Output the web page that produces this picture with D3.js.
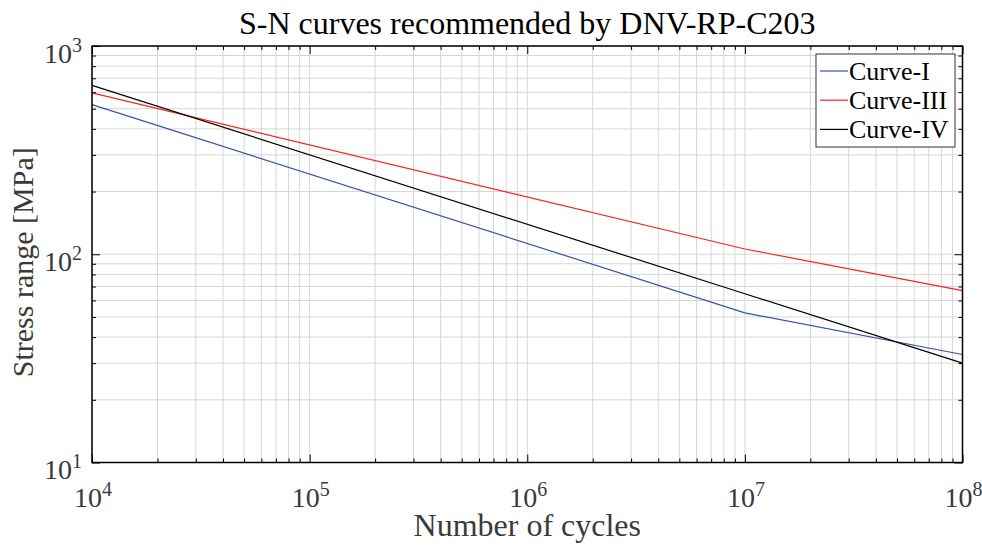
<!DOCTYPE html>
<html>
<head>
<meta charset="utf-8">
<script src="https://cdn.jsdelivr.net/npm/d3@7"></script>
<style>
  html, body { margin: 0; padding: 0; background: #fff; }
  svg { display: block; font-family: "Liberation Serif", "Times New Roman", serif; }
</style>
</head>
<body>
<svg id="chart" width="982" height="550"></svg>
<script>
// S-N curve data: number of cycles and stress range [MPa] at the curve end points / knees
const cycles = [1e4, 1e7, 1e8];
const curveI = [523, 52.3, 33.0];
const curveIII = [596, 106, 66.9];
const curveIV = [647, 64.6, 30.0];

const seriesNames = ["Curve-I", "Curve-III", "Curve-IV"];
const seriesColors = ["#3553a8", "#ff2020", "#000000"];

const xDecades = [4, 5, 6, 7, 8];
const yDecades = [1, 2, 3];

const titleText = "S-N curves recommended by DNV-RP-C203";
const xLabel = "Number of cycles";
const yLabel = "Stress range [MPa]";

(function () {
  const svg = d3.select("#chart");
  const L = 92, R = 962.5, T = 46, B = 462.5;

  const x = d3.scaleLog().domain([1e4, 1e8]).range([L, R]);
  const y = d3.scaleLog().domain([10, 1000]).range([B, T]);

  // major + minor tick values for each log axis
  function logTicks(decades) {
    const major = decades.map(d => Math.pow(10, d));
    const minor = [];
    for (let i = 0; i < decades.length - 1; i++) {
      for (let k = 2; k <= 9; k++) minor.push(k * Math.pow(10, decades[i]));
    }
    return { major, minor };
  }
  const xt = logTicks(xDecades);
  const yt = logTicks(yDecades);

  // grid
  const grid = svg.append("g").attr("stroke", "#d6d6d6").attr("stroke-width", 1);
  xt.major.concat(xt.minor).forEach(v => {
    grid.append("line").attr("x1", x(v)).attr("x2", x(v)).attr("y1", T).attr("y2", B);
  });
  yt.major.concat(yt.minor).forEach(v => {
    grid.append("line").attr("x1", L).attr("x2", R).attr("y1", y(v)).attr("y2", y(v));
  });

  // curves
  const series = [curveI, curveIII, curveIV];
  const line = d3.line().x(d => x(d[0])).y(d => y(d[1]));
  series.forEach((vals, i) => {
    svg.append("path")
      .datum(cycles.map((c, j) => [c, vals[j]]))
      .attr("d", line)
      .attr("fill", "none")
      .attr("stroke", seriesColors[i])
      .attr("stroke-width", 1.2);
  });

  // axes box with inward ticks on all four sides
  const axisG = svg.append("g");
  const axes = [
    [d3.axisBottom(x).tickValues(xt.major).tickSize(-8), `translate(0,${B})`],
    [d3.axisBottom(x).tickValues(xt.minor).tickSize(-4), `translate(0,${B})`],
    [d3.axisTop(x).tickValues(xt.major).tickSize(-8), `translate(0,${T})`],
    [d3.axisTop(x).tickValues(xt.minor).tickSize(-4), `translate(0,${T})`],
    [d3.axisLeft(y).tickValues(yt.major).tickSize(-8), `translate(${L},0)`],
    [d3.axisLeft(y).tickValues(yt.minor).tickSize(-4), `translate(${L},0)`],
    [d3.axisRight(y).tickValues(yt.major).tickSize(-8), `translate(${R},0)`],
    [d3.axisRight(y).tickValues(yt.minor).tickSize(-4), `translate(${R},0)`]
  ];
  axes.forEach(([ax, tr]) => {
    const g = axisG.append("g").attr("transform", tr).call(ax.tickFormat(""));
    g.select(".domain").remove();
    g.selectAll(".tick text").remove();
    g.selectAll(".tick line").attr("stroke", "#000").attr("stroke-width", 1);
  });
  axisG.append("rect")
    .attr("x", L).attr("y", T).attr("width", R - L).attr("height", B - T)
    .attr("fill", "none").attr("stroke", "#000").attr("stroke-width", 1.5);

  // tick labels written as 10 with a superscript exponent
  const labelColor = "#3a3a3a";
  function powerLabel(g, exp) {
    g.append("tspan").text("10");
    g.append("tspan").attr("dy", -11).attr("font-size", 20).text(exp);
  }
  xDecades.forEach(d => {
    const t = svg.append("text")
      .attr("x", x(Math.pow(10, d)) + 1).attr("y", B + 44)
      .attr("text-anchor", "middle")
      .attr("font-size", 28).attr("fill", labelColor);
    powerLabel(t, d);
  });
  yDecades.forEach(d => {
    const t = svg.append("text")
      .attr("x", L - 10).attr("y", y(Math.pow(10, d)) + 16.5)
      .attr("text-anchor", "end")
      .attr("font-size", 28).attr("fill", labelColor);
    powerLabel(t, d);
  });

  // title and axis labels
  svg.append("text")
    .attr("x", (L + R) / 2).attr("y", 34)
    .attr("text-anchor", "middle")
    .attr("font-size", 32).attr("fill", "#000")
    .text(titleText);
  svg.append("text")
    .attr("x", (L + R) / 2).attr("y", 536)
    .attr("text-anchor", "middle")
    .attr("font-size", 32).attr("fill", labelColor)
    .text(xLabel);
  svg.append("text")
    .attr("transform", `translate(33,${(T + B) / 2 + 8}) rotate(-90)`)
    .attr("text-anchor", "middle")
    .attr("font-size", 30).attr("fill", labelColor)
    .text(yLabel);

  // legend
  const lg = svg.append("g");
  lg.append("rect")
    .attr("x", 816).attr("y", 54).attr("width", 139).attr("height", 93)
    .attr("fill", "#fff").attr("stroke", "#333").attr("stroke-width", 1);
  seriesNames.forEach((name, i) => {
    const cy = 71 + i * 29.2;
    lg.append("line")
      .attr("x1", 820).attr("x2", 848).attr("y1", cy).attr("y2", cy)
      .attr("stroke", seriesColors[i]).attr("stroke-width", 1.2);
    lg.append("text")
      .attr("x", 849).attr("y", cy + 9)
      .attr("font-size", 26).attr("fill", "#000")
      .text(name);
  });
})();
</script>
</body>
</html>
